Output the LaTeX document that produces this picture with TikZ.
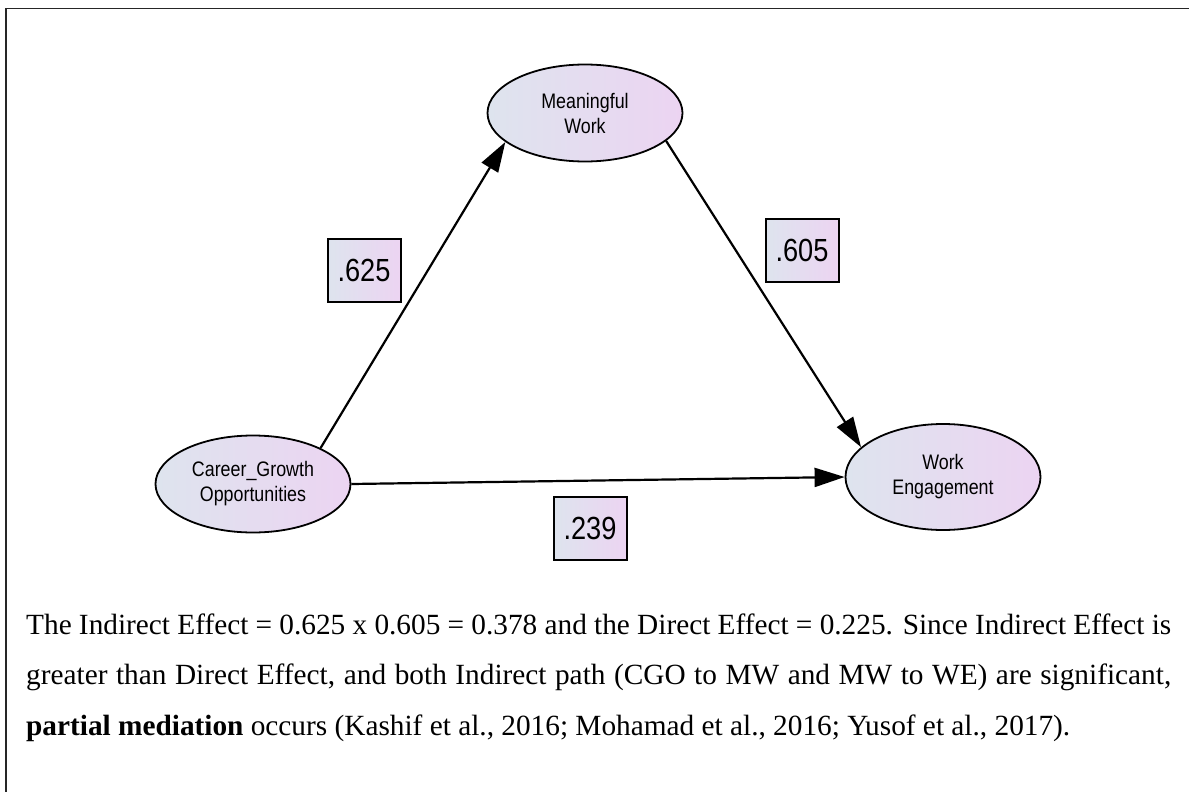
\documentclass[tikz,border=0pt]{standalone}
\usepackage{fontspec}
\setmainfont{Liberation Serif}
\newfontfamily\amosfont[FakeStretch=0.85]{Liberation Sans}
\usepackage{tikz}
\usetikzlibrary{shapes.geometric,arrows.meta}
\definecolor{amosL}{RGB}{222,228,238}
\definecolor{amosR}{RGB}{236,212,242}

\begin{document}
\begin{tikzpicture}[x=1pt,y=-1pt,
  latent/.style={ellipse,draw,line width=1.8pt,left color=amosL,right color=amosR,inner sep=0pt,
    minimum width=195pt,minimum height=97pt,align=center,font={\amosfont\fontsize{21}{25}\selectfont}},
  coef/.style={rectangle,draw,line width=2pt,left color=amosL,right color=amosR,inner sep=0pt,
    minimum width=73pt,minimum height=63pt,font={\amosfont\fontsize{32}{36}\selectfont}},
  effect/.style={line width=2.2pt,-{Triangle[length=30pt,width=19pt]}}]
  \useasboundingbox (0,0) rectangle (1189,792);
  \draw[line width=1.5pt,black!85] (6,792) -- (6,8.6) -- (1189,8.6);
  \node[latent] (mw) at (585,113) {Meaningful\\Work};
  \node[latent] (cgo) at (253,484) {Career\_Growth\\Opportunities};
  \node[latent,minimum height=106pt] (we) at (943,477) {Work\\Engagement};
  \draw[effect] (cgo.28) -- (mw.200);
  \draw[effect] (mw.341) -- (we.160);
  \draw[effect] (cgo.east) -- (we.west);
  \foreach \n/\p/\t in {cm/{(364,270)}/.625,mwe/{(802,250)}/.605,cwe/{(590,528)}/.239}
    \node[coef] (\n) at \p {\t};
  \node[anchor=base west,inner sep=0pt,text width=1145pt,align=justify,
    font={\fontsize{29.3}{50.5}\selectfont}] (note) at (26,634)
    {The Indirect Effect = 0.625 x 0.605 = 0.378 and the Direct Effect = 0.225. Since Indirect Effect is\linebreak
     greater than Direct Effect, and both Indirect path (CGO to MW and MW to WE) are significant,\linebreak
     \textbf{partial mediation} occurs (Kashif et al., 2016; Mohamad et al., 2016; Yusof et al., 2017).};
\end{tikzpicture}
\end{document}
